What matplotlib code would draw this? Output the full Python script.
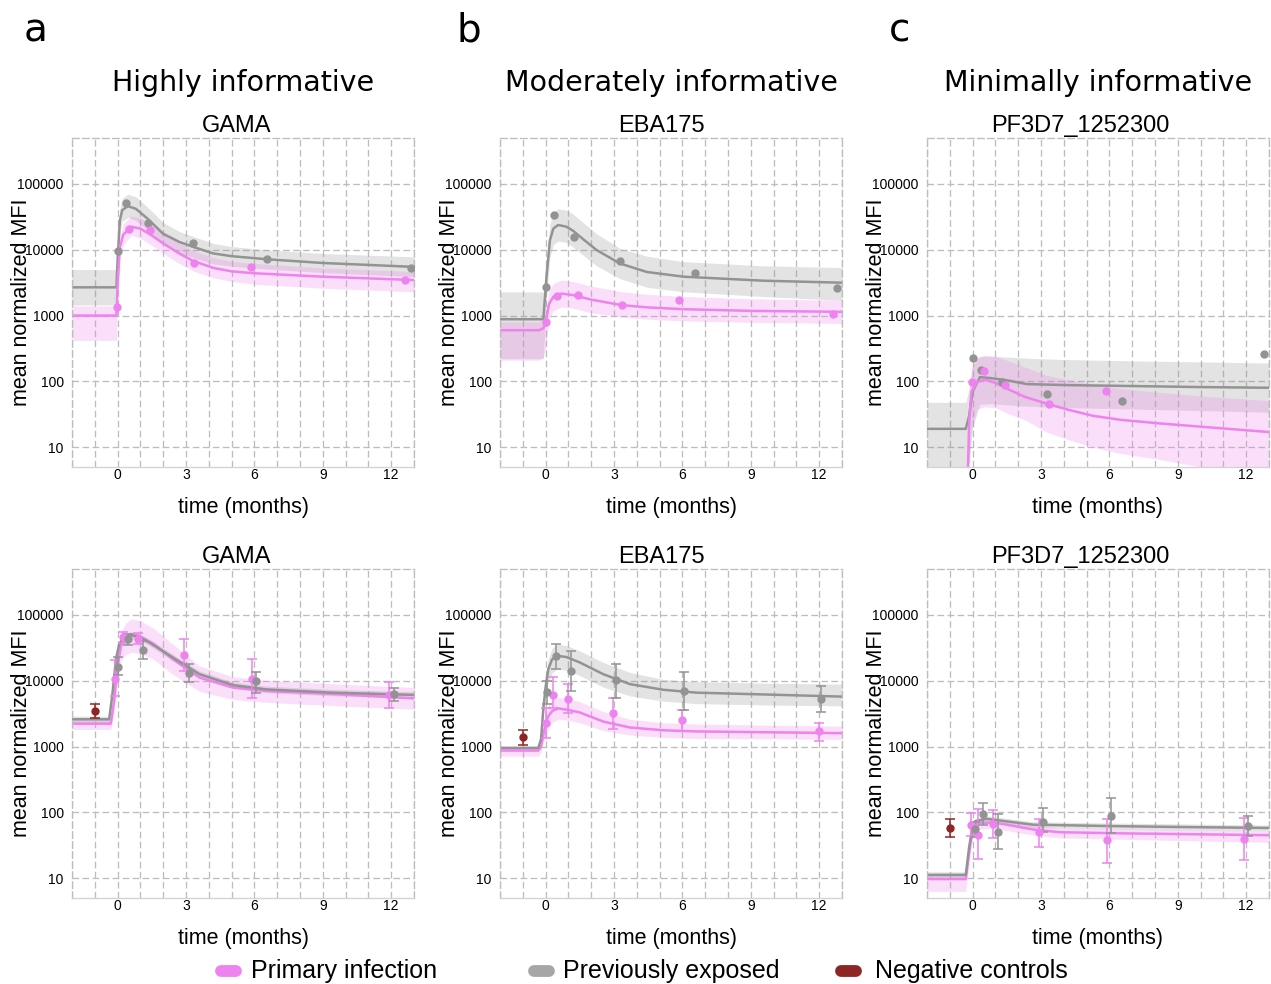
import matplotlib
matplotlib.use("Agg")
import matplotlib.pyplot as plt
from matplotlib.lines import Line2D

# ---------------------------------------------------------------- data
COLUMN_TITLES = ["Highly informative", "Moderately informative", "Minimally informative"]
PANEL_LETTERS = ["a", "b", "c"]
ANTIGENS = ["GAMA", "EBA175", "PF3D7_1252300"]
LEGEND_LABELS = ["Primary infection", "Previously exposed", "Negative controls"]

X_TICKS = [0, 3, 6, 9, 12]
Y_TICKS = [10, 100, 1000, 10000, 100000]
Y_TICK_LABELS = ["10", "100", "1000", "10000", "100000"]

# --- top row, GAMA
GAMA_TOP_EXP_T = [-2, -0.05, 0.0, 0.1, 0.2, 0.45, 0.8, 1.3, 2.0, 2.7, 3.3, 4.2, 5.0, 6.5, 9.0, 13]
GAMA_TOP_EXP = [2690, 2690, 7000, 28000, 40000, 46000, 42000, 30000, 17500, 13200, 11100, 8800, 8000, 7200, 6300, 5500]
GAMA_TOP_EXP_HI = [5000, 5000, 11000, 42000, 60000, 70000, 64000, 45000, 26000, 19000, 16000, 12500, 11200, 10000, 8800, 7800]
GAMA_TOP_EXP_LO = [1450, 1450, 4500, 18000, 27000, 31000, 28000, 20000, 11800, 9000, 7600, 6100, 5600, 5100, 4500, 3900]
GAMA_TOP_PRI_T = [-2, -0.05, 0.0, 0.1, 0.25, 0.6, 1.0, 1.5, 2.0, 2.7, 3.3, 4.2, 5.0, 6.0, 9.0, 13]
GAMA_TOP_PRI = [1000, 1000, 3000, 11000, 17000, 22400, 21000, 16500, 12500, 8800, 6800, 5300, 4700, 4400, 3900, 3470]
GAMA_TOP_PRI_HI = [1400, 1400, 4500, 16000, 25000, 32600, 30500, 24000, 18000, 12800, 9700, 7600, 6700, 6200, 5300, 4650]
GAMA_TOP_PRI_LO = [420, 420, 2000, 7500, 12000, 16700, 15000, 11700, 8800, 6200, 4800, 3750, 3300, 3000, 2600, 2300]
GAMA_TOP_EXP_PTS_T = [0.0, 0.39, 1.33, 3.3, 6.57, 12.85]
GAMA_TOP_EXP_PTS = [9660, 52000, 25100, 12500, 7240, 5330]
GAMA_TOP_PRI_PTS_T = [-0.01, 0.5, 1.42, 3.36, 5.84, 12.6]
GAMA_TOP_PRI_PTS = [1330, 20400, 20000, 6340, 5400, 3470]

# --- top row, EBA175
EBA_TOP_EXP_T = [-2, -0.1, 0.04, 0.19, 0.34, 0.55, 0.9, 1.2, 1.7, 2.24, 3.26, 4.44, 6.05, 9.56, 13]
EBA_TOP_EXP = [880, 880, 3900, 14000, 21000, 23800, 22500, 19500, 14000, 9900, 6200, 4600, 3900, 3390, 3160]
EBA_TOP_EXP_HI = [2290, 2290, 7000, 25000, 37000, 42000, 40000, 35000, 25000, 17500, 10500, 8000, 6600, 5700, 5370]
EBA_TOP_EXP_LO = [221, 221, 2000, 7800, 12000, 13500, 13000, 11000, 8000, 5700, 3650, 2700, 2300, 1950, 1700]
EBA_TOP_PRI_T = [-2, -0.3, -0.1, 0.0, 0.15, 0.35, 0.7, 1.2, 2.0, 3.34, 4.5, 6.05, 9.0, 13]
EBA_TOP_PRI = [600, 600, 640, 780, 1500, 1950, 2160, 2050, 1750, 1440, 1330, 1250, 1180, 1140]
EBA_TOP_PRI_HI = [800, 800, 850, 1100, 2400, 3100, 3460, 3300, 2800, 2300, 2100, 1950, 1800, 1700]
EBA_TOP_PRI_LO = [210, 210, 230, 300, 900, 1200, 1350, 1300, 1100, 950, 880, 830, 790, 760]
EBA_TOP_EXP_PTS_T = [0.0, 0.37, 1.26, 3.26, 6.56, 12.8]
EBA_TOP_EXP_PTS = [2690, 33700, 15800, 6800, 4460, 2630]
EBA_TOP_PRI_PTS_T = [0.03, 0.48, 1.4, 3.34, 5.83, 12.6]
EBA_TOP_PRI_PTS = [800, 2020, 2040, 1440, 1750, 1070]

# --- top row, PF3D7_1252300
PF_TOP_EXP_T = [-2, -0.3, -0.15, 0.0, 0.32, 0.8, 1.5, 2.37, 4.0, 7.0, 10.0, 13]
PF_TOP_EXP = [19, 19, 30, 70, 116, 112, 104, 91, 88, 85, 82, 80]
PF_TOP_EXP_HI = [48, 48, 80, 180, 240, 240, 235, 225, 215, 205, 198, 190]
PF_TOP_EXP_LO = [4, 4, 6, 20, 45, 46, 44, 42, 40, 38, 36, 34]
PF_TOP_PRI_T = [-2, -0.25, -0.15, -0.05, 0.2, 0.54, 1.0, 1.49, 2.3, 3.24, 4.2, 5.28, 6.5, 8.2, 10.0, 13]
PF_TOP_PRI = [1, 1, 25, 70, 98, 106, 95, 78, 58, 46, 37, 30, 26, 23, 20.5, 17]
PF_TOP_PRI_HI = [1, 1, 60, 160, 230, 250, 240, 210, 165, 124, 105, 90, 78, 68, 60, 51]
PF_TOP_PRI_LO = [1, 1, 5, 20, 38, 41, 40, 33, 26, 17, 13, 10, 8, 6.5, 5, 3.8]
PF_TOP_EXP_PTS_T = [0.03, 0.39, 1.31, 3.28, 6.57, 12.8]
PF_TOP_EXP_PTS = [224, 151, 98, 65, 51, 264]
PF_TOP_PRI_PTS_T = [-0.01, 0.51, 1.42, 3.34, 5.84]
PF_TOP_PRI_PTS = [98, 144, 89, 46, 71]

# --- bottom row, GAMA
GAMA_BOT_EXP_T = [-2, -0.37, -0.22, -0.07, 0.07, 0.25, 0.51, 0.9, 1.39, 2.42, 3.59, 5.05, 6.52, 9.45, 13]
GAMA_BOT_EXP = [2600, 2600, 6600, 21500, 36000, 45000, 49500, 47000, 38300, 22600, 12600, 8600, 7400, 6600, 6100]
GAMA_BOT_EXP_HI = [2900, 2900, 7400, 24000, 40000, 50000, 55000, 52500, 43000, 25300, 14100, 9600, 8300, 7400, 6800]
GAMA_BOT_EXP_LO = [2320, 2320, 5900, 19200, 32000, 40000, 44000, 42000, 34200, 20200, 11300, 7700, 6600, 5900, 5450]
GAMA_BOT_PRI_T = [-2, -0.3, -0.15, 0.0, 0.15, 0.35, 0.59, 1.0, 1.6, 2.42, 3.59, 5.05, 6.52, 9.45, 13]
GAMA_BOT_PRI = [2230, 2230, 5000, 17000, 34000, 46000, 51500, 47000, 36000, 21300, 11200, 7900, 7000, 6300, 5400]
GAMA_BOT_PRI_HI = [2600, 2600, 8000, 28000, 55000, 75000, 87000, 82000, 62000, 36000, 16900, 11500, 10200, 9000, 7900]
GAMA_BOT_PRI_LO = [1820, 1820, 3200, 10000, 20000, 25000, 27000, 26000, 21000, 12500, 6900, 5200, 4700, 4200, 3700]
GAMA_BOT_PRI_PTS_T = [-0.12, 0.22, 0.88, 2.9, 5.9, 11.9]
GAMA_BOT_PRI_PTS = [10800, 46800, 43100, 24500, 10800, 6000]
GAMA_BOT_PRI_PTS_LO = [5900, 38000, 36200, 14100, 5400, 3900]
GAMA_BOT_PRI_PTS_HI = [20500, 55800, 52800, 43000, 21300, 9600]
GAMA_BOT_EXP_PTS_T = [0.0, 0.44, 1.1, 3.12, 6.05, 12.13]
GAMA_BOT_EXP_PTS = [16300, 42800, 29300, 13300, 9800, 6300]
GAMA_BOT_EXP_PTS_LO = [12200, 34700, 21400, 9550, 6600, 4900]
GAMA_BOT_EXP_PTS_HI = [22600, 51300, 40700, 17800, 13800, 7900]
GAMA_NEG_T = [-1.0]
GAMA_NEG = [3440]
GAMA_NEG_LO = [2750]
GAMA_NEG_HI = [4400]

# --- bottom row, EBA175
EBA_BOT_EXP_T = [-2, -0.32, -0.2, -0.1, 0.0, 0.12, 0.28, 0.48, 0.9, 1.5, 2.53, 3.7, 5.17, 6.63, 9.56, 13]
EBA_BOT_EXP = [955, 955, 1300, 3700, 8000, 15000, 21000, 24000, 23000, 19000, 12600, 8900, 7300, 6600, 6200, 5750]
EBA_BOT_EXP_HI = [1000, 1000, 1450, 4500, 11000, 22000, 31000, 36100, 34500, 28500, 19000, 13400, 10500, 9700, 9200, 8900]
EBA_BOT_EXP_LO = [910, 910, 1150, 3000, 5800, 9500, 13000, 15000, 14500, 12000, 8000, 5900, 4900, 4500, 4300, 4150]
EBA_BOT_PRI_T = [-2, -0.32, -0.2, -0.1, 0.0, 0.12, 0.3, 0.56, 1.0, 1.5, 2.53, 3.7, 5.17, 6.63, 13]
EBA_BOT_PRI = [870, 870, 1000, 1500, 2200, 2900, 3500, 3800, 3600, 3300, 2400, 1950, 1770, 1700, 1600]
EBA_BOT_PRI_HI = [950, 950, 1100, 1900, 3100, 4200, 5100, 5560, 5300, 4800, 3400, 2600, 2300, 2200, 2040]
EBA_BOT_PRI_LO = [716, 716, 820, 1150, 1550, 1900, 2350, 2600, 2500, 2300, 1750, 1500, 1380, 1330, 1290]
EBA_BOT_PRI_PTS_T = [0.0, 0.34, 1.0, 2.97, 6.0, 12.0]
EBA_BOT_PRI_PTS = [2300, 6000, 5350, 3230, 2520, 1740]
EBA_BOT_PRI_PTS_LO = [1360, 3800, 3240, 1860, 1740, 1200]
EBA_BOT_PRI_PTS_HI = [3900, 11600, 8900, 5560, 3630, 2290]
EBA_BOT_EXP_PTS_T = [0.07, 0.44, 1.1, 3.09, 6.09, 12.09]
EBA_BOT_EXP_PTS = [6800, 23400, 14100, 10300, 7000, 5300]
EBA_BOT_EXP_PTS_LO = [4400, 15000, 7100, 5500, 3630, 3310]
EBA_BOT_EXP_PTS_HI = [10000, 36300, 28800, 18200, 13800, 8300]
EBA_NEG_T = [-0.98]
EBA_NEG = [1400]
EBA_NEG_LO = [1070]
EBA_NEG_HI = [1780]

# --- bottom row, PF3D7_1252300
PF_BOT_EXP_T = [-2, -0.3, -0.15, 0.0, 0.1, 0.6, 1.5, 2.66, 3.8, 6.0, 9.0, 13]
PF_BOT_EXP = [11.2, 11.2, 30, 60, 73, 80, 73, 65, 64, 62, 60, 58]
PF_BOT_EXP_HI = [12.5, 12.5, 34, 67, 81, 89, 81, 72, 71, 69, 67, 64]
PF_BOT_EXP_LO = [10, 10, 27, 54, 66, 72, 66, 59, 58, 56, 54, 52]
PF_BOT_PRI_T = [-2, -0.3, -0.15, 0.0, 0.2, 0.9, 1.5, 2.66, 3.8, 6.6, 13]
PF_BOT_PRI = [9.7, 9.7, 25, 55, 69, 70, 65, 55, 50, 48, 45]
PF_BOT_PRI_HI = [12, 12, 32, 72, 80, 80, 75, 63, 58, 56, 52]
PF_BOT_PRI_LO = [6.3, 6.3, 17, 40, 55, 57, 53, 45, 41, 39, 35]
PF_BOT_PRI_PTS_T = [-0.09, 0.25, 0.9, 2.92, 5.9, 11.9]
PF_BOT_PRI_PTS = [65, 46, 66, 50, 37.6, 39.5]
PF_BOT_PRI_PTS_LO = [44, 19.5, 41, 30, 17, 18.6]
PF_BOT_PRI_PTS_HI = [98, 112, 110, 79, 79, 82]
PF_BOT_EXP_PTS_T = [0.1, 0.44, 1.12, 3.1, 6.09, 12.07]
PF_BOT_EXP_PTS = [55, 95, 50, 72, 89, 62]
PF_BOT_EXP_PTS_LO = [42, 65, 27.5, 50, 48, 44]
PF_BOT_EXP_PTS_HI = [72, 141, 93, 117, 166, 89]
PF_NEG_T = [-0.99]
PF_NEG = [58]
PF_NEG_LO = [43]
PF_NEG_HI = [78]

# ---------------------------------------------------------------- style
PINK = "#EE82EE"
GRAY = "#939393"
NEG = "#8E2424"
GRID = "#BDBDBD"
TEXT_FONT = ["Liberation Sans", "DejaVu Sans"]
HEAD_FONT = ["DejaVu Sans"]

plt.rcParams["font.family"] = TEXT_FONT

W, H = 1271, 984
fig = plt.figure(figsize=(W / 100, H / 100), dpi=100)

COL_LEFT = [72, 500, 927]
AX_W = 342
ROW_TOP = [138, 569]
AX_H = 329
TITLE_X = [0.48, 0.471, 0.447]
DASH = (0, (5, 2.6))


def px_rect(left, top):
    return [left / W, 1 - (top + AX_H) / H, AX_W / W, AX_H / H]


def style_axis(ax, title, title_x):
    ax.set_yscale("log")
    ax.set_xlim(-2, 13)
    ax.set_ylim(5, 5e5)
    ax.set_xticks(X_TICKS)
    ax.set_xticks(range(-2, 14), minor=True)
    ax.set_yticks(Y_TICKS)
    ax.set_yticklabels(Y_TICK_LABELS)
    ax.yaxis.set_minor_locator(matplotlib.ticker.NullLocator())
    ax.tick_params(which="both", length=0)
    ax.tick_params(axis="x", pad=1, labelsize=10)
    ax.tick_params(axis="y", pad=6, labelsize=10)
    ax.grid(True, which="both", axis="x", color=GRID, linestyle=DASH, linewidth=0.95)
    ax.grid(True, which="major", axis="y", color=GRID, linestyle=DASH, linewidth=0.95)
    ax.set_axisbelow(True)
    for side in ["top", "left", "right"]:
        ax.spines[side].set_color(GRID)
        ax.spines[side].set_linestyle(DASH)
        ax.spines[side].set_linewidth(0.95)
    ax.spines["bottom"].set_color("#D4D4D4")
    ax.spines["bottom"].set_linewidth(1.0)
    ax.set_title(title, fontsize=17, pad=4.5, x=title_x)
    ax.set_xlabel("time (months)", fontsize=15.5, va="baseline")
    ax.xaxis.set_label_coords(0.5, -0.14)
    ax.set_ylabel("mean normalized MFI", fontsize=15.5, va="center")
    ax.yaxis.set_label_coords(-0.149, 0.5)


def draw_curve(ax, t, mid, lo, hi, color):
    ax.fill_between(t, lo, hi, color=color, alpha=0.26, linewidth=0)
    ax.plot(t, mid, color=color, linewidth=1.8, solid_joinstyle="round")


TOP = [
    (GAMA_TOP_EXP_T, GAMA_TOP_EXP, GAMA_TOP_EXP_LO, GAMA_TOP_EXP_HI,
     GAMA_TOP_PRI_T, GAMA_TOP_PRI, GAMA_TOP_PRI_LO, GAMA_TOP_PRI_HI,
     GAMA_TOP_EXP_PTS_T, GAMA_TOP_EXP_PTS, GAMA_TOP_PRI_PTS_T, GAMA_TOP_PRI_PTS),
    (EBA_TOP_EXP_T, EBA_TOP_EXP, EBA_TOP_EXP_LO, EBA_TOP_EXP_HI,
     EBA_TOP_PRI_T, EBA_TOP_PRI, EBA_TOP_PRI_LO, EBA_TOP_PRI_HI,
     EBA_TOP_EXP_PTS_T, EBA_TOP_EXP_PTS, EBA_TOP_PRI_PTS_T, EBA_TOP_PRI_PTS),
    (PF_TOP_EXP_T, PF_TOP_EXP, PF_TOP_EXP_LO, PF_TOP_EXP_HI,
     PF_TOP_PRI_T, PF_TOP_PRI, PF_TOP_PRI_LO, PF_TOP_PRI_HI,
     PF_TOP_EXP_PTS_T, PF_TOP_EXP_PTS, PF_TOP_PRI_PTS_T, PF_TOP_PRI_PTS),
]

BOTTOM = [
    (GAMA_BOT_EXP_T, GAMA_BOT_EXP, GAMA_BOT_EXP_LO, GAMA_BOT_EXP_HI,
     GAMA_BOT_PRI_T, GAMA_BOT_PRI, GAMA_BOT_PRI_LO, GAMA_BOT_PRI_HI,
     GAMA_BOT_EXP_PTS_T, GAMA_BOT_EXP_PTS, GAMA_BOT_EXP_PTS_LO, GAMA_BOT_EXP_PTS_HI,
     GAMA_BOT_PRI_PTS_T, GAMA_BOT_PRI_PTS, GAMA_BOT_PRI_PTS_LO, GAMA_BOT_PRI_PTS_HI,
     GAMA_NEG_T, GAMA_NEG, GAMA_NEG_LO, GAMA_NEG_HI),
    (EBA_BOT_EXP_T, EBA_BOT_EXP, EBA_BOT_EXP_LO, EBA_BOT_EXP_HI,
     EBA_BOT_PRI_T, EBA_BOT_PRI, EBA_BOT_PRI_LO, EBA_BOT_PRI_HI,
     EBA_BOT_EXP_PTS_T, EBA_BOT_EXP_PTS, EBA_BOT_EXP_PTS_LO, EBA_BOT_EXP_PTS_HI,
     EBA_BOT_PRI_PTS_T, EBA_BOT_PRI_PTS, EBA_BOT_PRI_PTS_LO, EBA_BOT_PRI_PTS_HI,
     EBA_NEG_T, EBA_NEG, EBA_NEG_LO, EBA_NEG_HI),
    (PF_BOT_EXP_T, PF_BOT_EXP, PF_BOT_EXP_LO, PF_BOT_EXP_HI,
     PF_BOT_PRI_T, PF_BOT_PRI, PF_BOT_PRI_LO, PF_BOT_PRI_HI,
     PF_BOT_EXP_PTS_T, PF_BOT_EXP_PTS, PF_BOT_EXP_PTS_LO, PF_BOT_EXP_PTS_HI,
     PF_BOT_PRI_PTS_T, PF_BOT_PRI_PTS, PF_BOT_PRI_PTS_LO, PF_BOT_PRI_PTS_HI,
     PF_NEG_T, PF_NEG, PF_NEG_LO, PF_NEG_HI),
]


def errbar(ax, t, v, lo, hi, color):
    yerr = [[a - b for a, b in zip(v, lo)], [b - a for a, b in zip(v, hi)]]
    ax.errorbar(t, v, yerr=yerr, fmt="o", color=color, markersize=5,
                elinewidth=1.1, capsize=3.5, capthick=1.1, zorder=4)


for col in range(3):
    # top row
    ax = fig.add_axes(px_rect(COL_LEFT[col], ROW_TOP[0]))
    (et, ev, elo, ehi, pt, pv, plo, phi, ept, epv, ppt, ppv) = TOP[col]
    draw_curve(ax, et, ev, elo, ehi, GRAY)
    draw_curve(ax, pt, pv, plo, phi, PINK)
    ax.plot(ept, epv, "o", color=GRAY, markersize=5, zorder=4)
    ax.plot(ppt, ppv, "o", color=PINK, markersize=5, zorder=4)
    style_axis(ax, ANTIGENS[col], TITLE_X[col])

    # bottom row
    ax = fig.add_axes(px_rect(COL_LEFT[col], ROW_TOP[1]))
    (et, ev, elo, ehi, pt, pv, plo, phi,
     ept, epv, eplo, ephi, ppt, ppv, pplo, pphi,
     nt, nv, nlo, nhi) = BOTTOM[col]
    draw_curve(ax, pt, pv, plo, phi, PINK)
    draw_curve(ax, et, ev, elo, ehi, GRAY)
    errbar(ax, ppt, ppv, pplo, pphi, PINK)
    errbar(ax, ept, epv, eplo, ephi, GRAY)
    errbar(ax, nt, nv, nlo, nhi, NEG)
    style_axis(ax, ANTIGENS[col], TITLE_X[col])

    # column headers
    centre = (COL_LEFT[col] + AX_W / 2) / W
    fig.text(centre, 1 - 91 / H, COLUMN_TITLES[col], fontsize=20.5,
             family=HEAD_FONT, ha="center", va="baseline")

LETTER_X = [24, 457, 889]
for letter, x in zip(PANEL_LETTERS, LETTER_X):
    fig.text(x / W, 1 - 42 / H, letter, fontsize=28, family=HEAD_FONT,
             ha="left", va="baseline")

# legend along the bottom
LEG_PILL_X = [221, 534, 841]
LEG_TEXT_X = [251, 563, 875]
legend_colors = [PINK, "#A6A6A6", NEG]
leg_y = 1 - 971 / H
for label, color, px, tx in zip(LEGEND_LABELS, legend_colors, LEG_PILL_X, LEG_TEXT_X):
    fig.add_artist(Line2D([px / W, (px + 15) / W], [leg_y, leg_y], color=color,
                          linewidth=8.5, solid_capstyle="round",
                          transform=fig.transFigure))
    fig.text(tx / W, leg_y, label, fontsize=18, ha="left", va="center")

fig.savefig("out.png", dpi=100, facecolor="white")
